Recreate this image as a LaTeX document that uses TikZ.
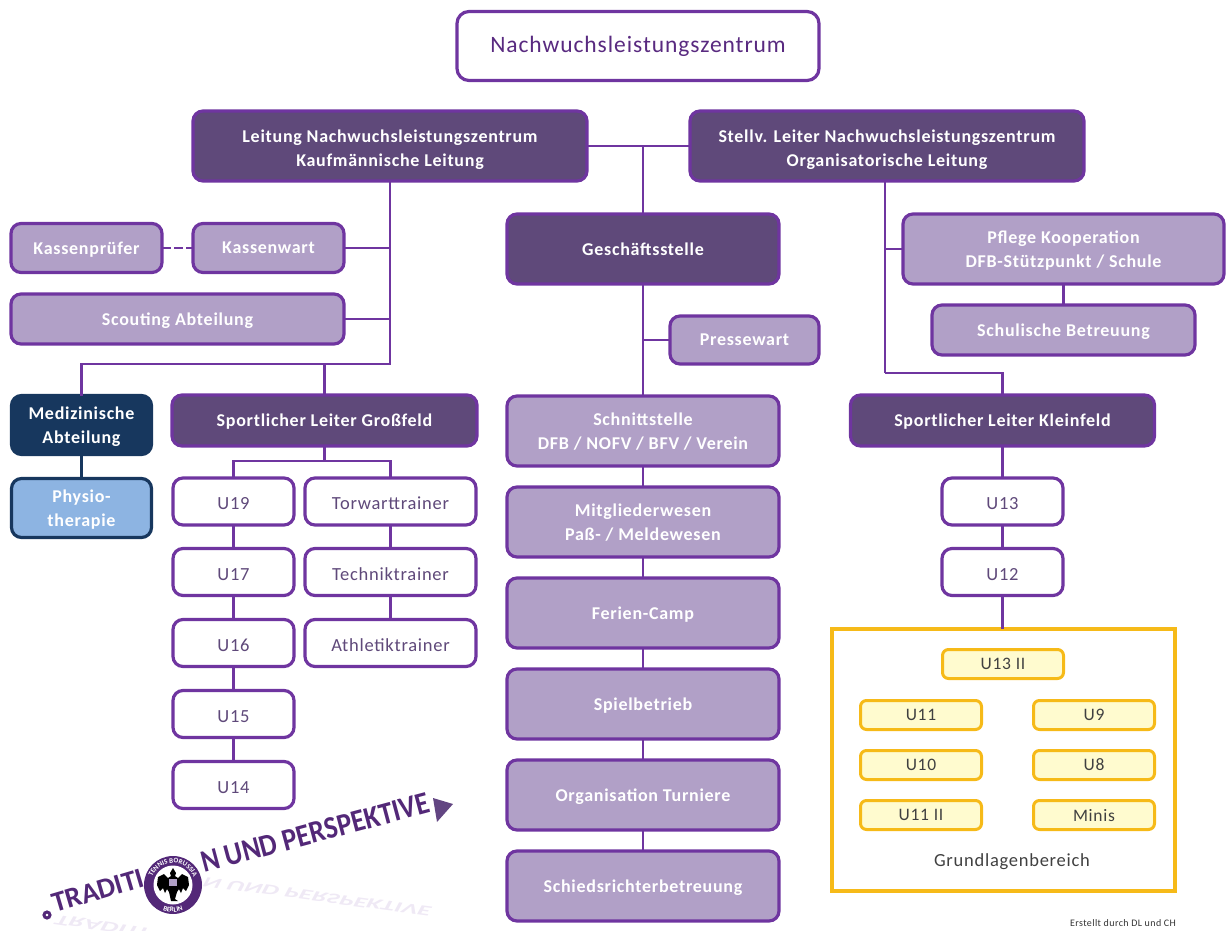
\documentclass[tikz,border=0pt]{standalone}
\usepackage{fontspec}
\setmainfont[LetterSpace=4]{Carlito}
\newfontfamily\logofont{Carlito}
\usetikzlibrary{decorations.text}
\definecolor{lila}{HTML}{6F35A0}
\definecolor{lilad}{HTML}{5F497A}
\definecolor{lilah}{HTML}{B1A0C7}
\definecolor{navy}{HTML}{17375E}
\definecolor{hblau}{HTML}{8DB4E2}
\definecolor{gold}{HTML}{F6BA18}
\definecolor{hgelb}{HTML}{FFFBCF}
\tikzset{
    box/.style = {rounded corners=10pt, line width=3.2pt, align=center, inner sep=0pt, outer sep=0pt,
        font=\fontsize{18}{24}\selectfont\bfseries, text=white, text depth=0pt},
    leit/.style = {box, draw=lila, fill=lilad},
    abt/.style = {box, draw=lila, fill=lilah},
    team/.style = {box, draw=lila, fill=white, text=lilad, font=\fontsize{18.5}{20}\selectfont,
        minimum height=47pt, text height=16pt},
    med/.style = {box, draw=navy, minimum width=140pt, minimum height=59pt},
    jugend/.style = {box, draw=gold, fill=hgelb, text=black!75, font=\fontsize{17.5}{20}\selectfont,
        minimum width=121pt, minimum height=29pt, rounded corners=6pt, line width=3pt},
    linie/.style = {draw=lila, line width=2.4pt},
    logotext/.style = {inner sep=0pt, anchor=base west, font=\logofont\fontsize{28.5}{30}\selectfont\bfseries},
    spiegel/.style = {logotext, yscale=-0.5, text=lila!11}
}
\begin{document}
\begin{tikzpicture}[x=1pt,y=-1pt]
    \useasboundingbox (0,0) rectangle (1226,931);
    % kopf
    \node[box, draw=lila, fill=white, text=lila!80!black, font=\fontsize{23.5}{24}\selectfont, text depth=3pt, minimum width=362pt, minimum height=69pt, rounded corners=12pt] (nlz) at (638,46) {Nachwuchsleistungszentrum};
    \node[leit, minimum width=394pt, minimum height=70pt, text height=40pt] (leitung) at (390,146) {Leitung Nachwuchsleistungszentrum\\Kaufmännische Leitung};
    \node[leit, minimum width=394pt, minimum height=70pt, text height=40pt] (stellv) at (887,146) {Stellv. Leiter Nachwuchsleistungszentrum\\Organisatorische Leitung};
    % links
    \node[abt, minimum width=151pt, minimum height=49pt] (pruefer) at (86.5,248) {Kassenprüfer};
    \node[abt, minimum width=151pt, minimum height=49pt] (wart) at (268.5,248) {Kassenwart};
    \node[abt, minimum width=333pt, minimum height=50pt] (scouting) at (177.5,319) {Scouting Abteilung};
    \node[med, fill=navy] (medabt) at (81.5,425) {Medizinische\\Abteilung};
    \node[med, fill=hblau] (physio) at (81.5,508) {Physio-\\therapie};
    \node[leit, minimum width=305pt, minimum height=51pt] (gross) at (324.5,420.5) {Sportlicher Leiter Großfeld};
    \node[team, minimum width=121pt] (u19) at (233.5,501.5) {U19};
    \node[team, minimum width=121pt] (u17) at (233.5,572) {U17};
    \node[team, minimum width=121pt] (u16) at (233.5,643) {U16};
    \node[team, minimum width=121pt] (u15) at (233.5,714) {U15};
    \node[team, minimum width=121pt] (u14) at (233.5,785) {U14};
    \node[team, minimum width=171pt] (torwart) at (390.5,501.5) {Torwarttrainer};
    \node[team, minimum width=171pt] (technik) at (390.5,572) {Techniktrainer};
    \node[team, minimum width=171pt] (athletik) at (390.5,643) {Athletiktrainer};
    % mitte
    \node[leit, minimum width=272pt, minimum height=70pt] (gst) at (643,249) {Geschäftsstelle};
    \node[abt, minimum width=149pt, minimum height=48pt] (presse) at (744.5,340) {Pressewart};
    \node[abt, minimum width=272pt, minimum height=70pt] (schnitt) at (643,431) {Schnittstelle\\DFB / NOFV / BFV / Verein};
    \node[abt, minimum width=272pt, minimum height=70pt] (mitglied) at (643,522) {Mitgliederwesen\\Paß- / Meldewesen};
    \node[abt, minimum width=272pt, minimum height=70pt] (ferien) at (643,613) {Ferien-Camp};
    \node[abt, minimum width=272pt, minimum height=70pt] (spiel) at (643,704) {Spielbetrieb};
    \node[abt, minimum width=272pt, minimum height=70pt] (turnier) at (643,795) {Organisation Turniere};
    \node[abt, minimum width=272pt, minimum height=70pt] (schieds) at (643,886) {Schiedsrichterbetreuung};
    % rechts
    \node[abt, minimum width=321pt, minimum height=70pt] (pflege) at (1063.5,249) {Pflege Kooperation\\DFB-Stützpunkt / Schule};
    \node[abt, minimum width=263pt, minimum height=50pt] (schule) at (1063.5,330) {Schulische Betreuung};
    \node[leit, minimum width=304pt, minimum height=51pt] (klein) at (1002.5,420.5) {Sportlicher Leiter Kleinfeld};
    \node[team, minimum width=121pt] (u13) at (1002.5,501.5) {U13};
    \node[team, minimum width=121pt] (u12) at (1002.5,572) {U12};
    \node[draw=gold, line width=3.6pt, minimum width=343pt, minimum height=262pt, inner sep=0pt, outer sep=0pt] (grund) at (1003.5,760) {};
    \node[jugend] (u13z) at (1003,664) {U13 II};
    \node[jugend] (u11) at (921,715) {U11};
    \node[jugend] (u10) at (921,765) {U10};
    \node[jugend] (u11z) at (921,815) {U11 II};
    \node[jugend] (u9) at (1094,715) {U9};
    \node[jugend] (u8) at (1094,765) {U8};
    \node[jugend] (minis) at (1094,815) {Minis};
    \node[text=black!75, font=\fontsize{18.5}{20}\selectfont] (grundtext) at (1012,862) {Grundlagenbereich};
    \node[text=black!80, font=\fontsize{10}{11}\selectfont] (erstellt) at (1123,923) {Erstellt durch DL und CH};
    % linien
    \coordinate (mitteoben) at (643,146);
    \coordinate (linksab) at (389,364);
    \coordinate (rechtsab) at (885,373);
    \coordinate (grossab) at (324.5,461);
    \draw[linie] (leitung.east) -- (stellv.west);
    \draw[linie] (mitteoben) -- (gst.north);
    \draw[linie] (gst.south) -- (schnitt.north);
    \draw[linie] (gst.south |- presse.west) -- (presse.west);
    \draw[linie] (schnitt.south) -- (mitglied.north);
    \draw[linie] (mitglied.south) -- (ferien.north);
    \draw[linie] (ferien.south) -- (spiel.north);
    \draw[linie] (spiel.south) -- (turnier.north);
    \draw[linie] (turnier.south) -- (schieds.north);
    \draw[linie] (leitung.south) -- (leitung.south |- linksab) -| (medabt.north);
    \draw[linie] (wart.east) -- (wart.east -| leitung.south);
    \draw[linie] (scouting.east) -- (scouting.east -| leitung.south);
    \draw[linie] (gross.north |- linksab) -- (gross.north);
    \draw[linie, dashed, dash pattern=on 9pt off 3pt] (pruefer.east) -- (wart.west);
    \draw[linie, draw=navy] (medabt.south) -- (physio.north);
    \draw[linie] (gross.south) -- (grossab);
    \draw[linie] (u19.north) |- (grossab) -| (torwart.north);
    \draw[linie] (u19.south) -- (u17.north);
    \draw[linie] (u17.south) -- (u16.north);
    \draw[linie] (u16.south) -- (u15.north);
    \draw[linie] (u15.south) -- (u14.north);
    \draw[linie] (torwart.south) -- (technik.north);
    \draw[linie] (technik.south) -- (athletik.north);
    \draw[linie] (rechtsab |- stellv.south) -- (rechtsab);
    \draw[linie] (rechtsab) -| (klein.north);
    \draw[linie] (pflege.west) -- (pflege.west -| rechtsab);
    \draw[linie] (pflege.south) -- (schule.north);
    \draw[linie] (klein.south) -- (u13.north);
    \draw[linie] (u13.south) -- (u12.north);
    \draw[linie] (u12.south) -- (u12.south |- grund.north);
    % logo
    \node[spiegel, rotate=16] (tradspiegel) at (58,915) {TRADITI};
    \node[spiegel, rotate=15, xscale=.97] (perspiegel) at (206,877) {N UND PERSPEKTIVE};
    \node[logotext, rotate=16.5, text=lila!75!black] (trad) at (55,913) {TRADITI};
    \node[logotext, rotate=15, xscale=.97, yscale=1.1, text=lila!75!black] (pers) at (204,873) {N UND PERSPEKTIVE};
    \node[circle, draw=lila!75!black, line width=3pt, minimum size=6pt, inner sep=0pt] (punkt) at (47,915) {};
    \fill[lilad!80!lila] (433,798) -- (453,804) -- (437,822) -- cycle;
    \begin{scope}[shift={(173,885)},x=1pt,y=1pt]
        \fill[lila!75!black] (0,0) circle (29);
        \fill[white] (0,0) circle (19.5);
        \path[decorate, decoration={text along path, text color=white, text align=center, text={|\logofont\fontsize{7}{7}\selectfont\bfseries|TENNIS BORUSSIA}}] (200:22) arc[start angle=200, end angle=-20, radius=22];
        \path[decorate, decoration={text along path, text color=white, text align=center, text={|\logofont\fontsize{7}{7}\selectfont\bfseries|BERLIN}}] (230:27) arc[start angle=230, end angle=310, radius=27];
        % adler
        \fill[black] (0,17) -- (3,12) -- (2,9) -- (5,7) -- (9,11) -- (15,8) -- (16,0) -- (13,-6) -- (10,-3) -- (8,-8) -- (6,-4) -- (4,-7) -- (2,-14) -- (5,-16) -- (-2,-16) -- (-4,-7) -- (-6,-4) -- (-8,-8) -- (-10,-3) -- (-13,-6) -- (-16,0) -- (-15,8) -- (-9,11) -- (-5,7) -- (-2,9) -- (-3,12) -- cycle;
        \fill[lilah] (-4,-1) rectangle (4,6);
    \end{scope}
\end{tikzpicture}
\end{document}
